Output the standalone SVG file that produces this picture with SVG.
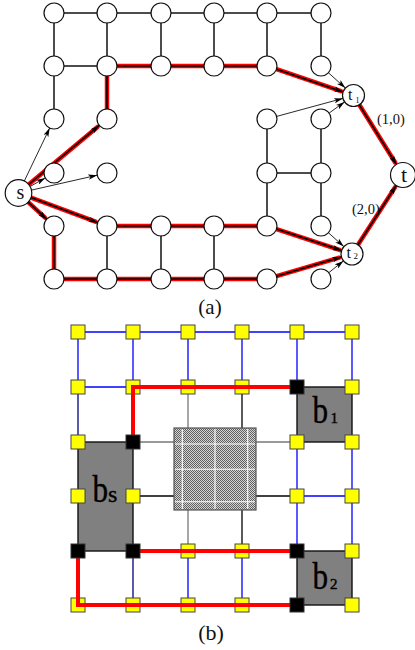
<svg xmlns="http://www.w3.org/2000/svg" width="415" height="650" viewBox="0 0 415 650">
<style>
.c{fill:#fff;stroke:#111;stroke-width:1.2}
.e{stroke:#111;stroke-width:1.5;fill:none}
.rh{stroke:#f00;stroke-width:4.5;fill:none;stroke-linecap:round}
.rc{stroke:#000;stroke-width:1.6;fill:none}
.ar{marker-end:url(#ah)}
.a{stroke:#111;stroke-width:0.9;fill:none;marker-end:url(#ah)}
.lbl{font-family:"Liberation Serif","Times New Roman",serif;fill:#111}
.bl{stroke:#00f;stroke-width:1.3}
.nv{stroke:#000080;stroke-width:1.3}
.gy{stroke:#777;stroke-width:1.3}
.bk{stroke:#000;stroke-width:1.3}
.rp{stroke:#f00;stroke-width:4;fill:none;stroke-linejoin:miter;stroke-linecap:square}
.sq{fill:#ff0;stroke:#444;stroke-width:1}
.sb{fill:#000;stroke:#333;stroke-width:1}
.box{fill:#808080;stroke:#111;stroke-width:1.4}
.wl{stroke:#fff;stroke-width:1.1}
.big{font-family:"Liberation Serif","Times New Roman",serif;fill:#000;stroke:#000;stroke-width:0.4}
</style>
<defs>
<marker id="ah" viewBox="0 0 10 6" refX="10" refY="3" markerWidth="9" markerHeight="5.4" markerUnits="userSpaceOnUse" orient="auto">
<path d="M0,0 L10,3 L0,6 L2.5,3 z" fill="#000"/>
</marker>
<pattern id="hatch" width="2" height="2" patternUnits="userSpaceOnUse">
<rect width="2" height="2" fill="#d4d4d4"/>
<rect width="1" height="1" fill="#606060"/>
<rect x="1" y="1" width="1" height="1" fill="#606060"/>
</pattern>
</defs>

<!-- ===== (a) connectors ===== -->
<g id="connectors-a">
<line class="e" x1="54" y1="13" x2="321" y2="13"/>
<line class="e" x1="54" y1="13" x2="54" y2="66"/>
<line class="e" x1="107" y1="13" x2="107" y2="66"/>
<line class="e" x1="161" y1="13" x2="161" y2="66"/>
<line class="e" x1="214" y1="13" x2="214" y2="66"/>
<line class="e" x1="267" y1="13" x2="267" y2="66"/>
<line class="e" x1="321" y1="13" x2="321" y2="66"/>
<line class="e" x1="54" y1="66" x2="107" y2="66"/>
<line class="e" x1="54" y1="66" x2="54" y2="119"/>
<line class="e" x1="267" y1="119" x2="267" y2="226"/>
<line class="e" x1="321" y1="119" x2="321" y2="226"/>
<line class="e" x1="267" y1="173" x2="321" y2="173"/>
<line class="e" x1="107" y1="226" x2="107" y2="279"/>
<line class="e" x1="161" y1="226" x2="161" y2="279"/>
<line class="e" x1="214" y1="226" x2="214" y2="279"/>
<!-- red path edges -->
<polyline class="rh" points="107,119 107,66 267,66"/>
<polyline class="rc" points="107,119 107,66 267,66"/>
<line class="rh" x1="267" y1="226" x2="107" y2="226"/>
<line class="rc" x1="267" y1="226" x2="107" y2="226"/>
<polyline class="rh" points="54,226 54,279 267,279"/>
<polyline class="rc" points="54,226 54,279 267,279"/>
<!-- red arrows -->
<line class="rh" x1="28.7" y1="184.5" x2="97.5" y2="126.9"/>
<line class="rc ar" x1="28.7" y1="184.5" x2="99.3" y2="125.4"/>
<line class="rh" x1="28.2" y1="202.1" x2="45" y2="217.6"/>
<line class="rc ar" x1="28.2" y1="202.1" x2="46.7" y2="219.2"/>
<line class="rh" x1="31" y1="197.6" x2="95.5" y2="221.7"/>
<line class="rc ar" x1="31" y1="197.6" x2="97.6" y2="222.5"/>
<line class="rh" x1="276.5" y1="69.2" x2="341" y2="91.2"/>
<line class="rc ar" x1="276.5" y1="69.2" x2="343.1" y2="91.9"/>
<line class="rh" x1="276.5" y1="229.1" x2="339.5" y2="249.9"/>
<line class="rc ar" x1="276.5" y1="229.1" x2="341.6" y2="250.6"/>
<line class="rh" x1="276.6" y1="276.2" x2="339.3" y2="257.7"/>
<line class="rc ar" x1="276.6" y1="276.2" x2="341.4" y2="257.1"/>
<line class="rh" x1="359.3" y1="104.8" x2="395.2" y2="162.5"/>
<line class="rc ar" x1="359.3" y1="104.8" x2="396.4" y2="164.4"/>
<line class="rh" x1="358" y1="244.8" x2="395" y2="187.4"/>
<line class="rc ar" x1="358" y1="244.8" x2="396.2" y2="185.5"/>
<!-- thin black arrows -->
<line class="a" x1="24.3" y1="181" x2="49.7" y2="128"/>
<line class="a" x1="30.1" y1="186.5" x2="45.3" y2="177.9"/>
<line class="a" x1="31.5" y1="190.1" x2="97.2" y2="175.2"/>
<line class="a" x1="328.4" y1="72.7" x2="345.4" y2="88.1"/>
<line class="a" x1="276.7" y1="116.4" x2="342.9" y2="98.4"/>
<line class="a" x1="329.1" y1="113.1" x2="344.6" y2="101.9"/>
<line class="a" x1="328.4" y1="232.7" x2="343.8" y2="246.6"/>
<line class="a" x1="328.8" y1="272.7" x2="343.4" y2="260.9"/>
<text class="lbl" x="377" y="124" font-size="14.5">(1,0)</text>
<text class="lbl" x="352" y="214" font-size="14.5">(2,0)</text>
</g>

<!-- ===== (a) nodes ===== -->
<g id="n-1-1"><circle class="c" cx="54" cy="13" r="10"/></g>
<g id="n-1-2"><circle class="c" cx="107" cy="13" r="10"/></g>
<g id="n-1-3"><circle class="c" cx="161" cy="13" r="10"/></g>
<g id="n-1-4"><circle class="c" cx="214" cy="13" r="10"/></g>
<g id="n-1-5"><circle class="c" cx="267" cy="13" r="10"/></g>
<g id="n-1-6"><circle class="c" cx="321" cy="13" r="10"/></g>
<g id="n-2-1"><circle class="c" cx="54" cy="66" r="10"/></g>
<g id="n-2-2"><circle class="c" cx="107" cy="66" r="10"/></g>
<g id="n-2-3"><circle class="c" cx="161" cy="66" r="10"/></g>
<g id="n-2-4"><circle class="c" cx="214" cy="66" r="10"/></g>
<g id="n-2-5"><circle class="c" cx="267" cy="66" r="10"/></g>
<g id="n-2-6"><circle class="c" cx="321" cy="66" r="10"/></g>
<g id="n-3-1"><circle class="c" cx="54" cy="119" r="10"/></g>
<g id="n-3-2"><circle class="c" cx="107" cy="119" r="10"/></g>
<g id="n-3-5"><circle class="c" cx="267" cy="119" r="10"/></g>
<g id="n-3-6"><circle class="c" cx="321" cy="119" r="10"/></g>
<g id="n-4-1"><circle class="c" cx="54" cy="173" r="10"/></g>
<g id="n-4-2"><circle class="c" cx="107" cy="173" r="10"/></g>
<g id="n-4-5"><circle class="c" cx="267" cy="173" r="10"/></g>
<g id="n-4-6"><circle class="c" cx="321" cy="173" r="10"/></g>
<g id="n-5-1"><circle class="c" cx="54" cy="226" r="10"/></g>
<g id="n-5-2"><circle class="c" cx="107" cy="226" r="10"/></g>
<g id="n-5-3"><circle class="c" cx="161" cy="226" r="10"/></g>
<g id="n-5-4"><circle class="c" cx="214" cy="226" r="10"/></g>
<g id="n-5-5"><circle class="c" cx="267" cy="226" r="10"/></g>
<g id="n-5-6"><circle class="c" cx="321" cy="226" r="10"/></g>
<g id="n-6-1"><circle class="c" cx="54" cy="279" r="10"/></g>
<g id="n-6-2"><circle class="c" cx="107" cy="279" r="10"/></g>
<g id="n-6-3"><circle class="c" cx="161" cy="279" r="10"/></g>
<g id="n-6-4"><circle class="c" cx="214" cy="279" r="10"/></g>
<g id="n-6-5"><circle class="c" cx="267" cy="279" r="10"/></g>
<g id="n-6-6"><circle class="c" cx="321" cy="279" r="10"/></g>
<g id="node-s"><circle class="c" cx="18.5" cy="193" r="13.3"/><text class="lbl" x="20.5" y="198.5" font-size="20" text-anchor="middle">s</text></g>
<g id="node-t1"><circle class="c" cx="353.5" cy="95.5" r="11"/><text class="lbl" x="348" y="100" font-size="16">t</text><text class="lbl" x="355.5" y="102.7" font-size="8">1</text></g>
<g id="node-t2"><circle class="c" cx="352" cy="254" r="11"/><text class="lbl" x="346.5" y="258.3" font-size="16">t</text><text class="lbl" x="353.5" y="258.5" font-size="9">2</text></g>
<g id="node-t"><circle class="c" cx="403" cy="175" r="12.5"/><text class="lbl" x="404" y="181.7" font-size="22" text-anchor="middle">t</text></g>
<text class="lbl" x="210" y="314" font-size="21" text-anchor="middle">(a)</text>

<!-- ===== (b) connectors ===== -->
<g id="connectors-b">
<line class="bl" x1="78" y1="332" x2="352" y2="332"/>
<line class="bl" x1="78" y1="332" x2="78" y2="387"/>
<line class="bl" x1="133" y1="332" x2="133" y2="387"/>
<line class="bl" x1="188" y1="332" x2="188" y2="387"/>
<line class="bl" x1="242" y1="332" x2="242" y2="387"/>
<line class="bl" x1="297" y1="332" x2="297" y2="387"/>
<line class="bl" x1="352" y1="332" x2="352" y2="387"/>
<line class="bl" x1="78" y1="387" x2="133" y2="387"/>
<line class="nv" x1="78" y1="387" x2="78" y2="442"/>
<line class="gy" x1="188" y1="387" x2="188" y2="428"/>
<line class="bk" x1="242" y1="387" x2="242" y2="428"/>
<line class="gy" x1="133" y1="442" x2="174" y2="442"/>
<line class="gy" x1="256" y1="442" x2="297" y2="442"/>
<line class="bk" x1="133" y1="496" x2="174" y2="496"/>
<line class="bk" x1="256" y1="496" x2="297" y2="496"/>
<line class="bl" x1="297" y1="442" x2="297" y2="551"/>
<line class="bl" x1="352" y1="442" x2="352" y2="551"/>
<line class="bl" x1="297" y1="496" x2="352" y2="496"/>
<line class="gy" x1="188" y1="510" x2="188" y2="551"/>
<line class="bk" x1="242" y1="510" x2="242" y2="551"/>
<line class="nv" x1="133" y1="551" x2="133" y2="605"/>
<line class="bl" x1="188" y1="551" x2="188" y2="605"/>
<line class="bl" x1="242" y1="551" x2="242" y2="605"/>
</g>

<!-- ===== (b) blocks ===== -->
<g id="block-obstacle">
<rect x="174" y="428" width="82" height="82" fill="url(#hatch)" stroke="#555" stroke-width="1.2"/>
<line class="wl" x1="182.3" y1="429" x2="182.3" y2="509"/>
<line class="wl" x1="215" y1="429" x2="215" y2="509"/>
<line class="wl" x1="247.7" y1="429" x2="247.7" y2="509"/>
<line class="wl" x1="175" y1="444" x2="255" y2="444"/>
<line class="wl" x1="175" y1="469.3" x2="255" y2="469.3"/>
<line class="wl" x1="175" y1="501.7" x2="255" y2="501.7"/>
</g>
<g id="block-bs">
<rect class="box" x="78" y="442" width="55" height="109"/>
<text class="big" transform="translate(92.5,502) scale(0.82,1)" font-size="38">b</text>
<text class="big" x="108" y="502" font-size="24">s</text>
</g>
<g id="block-b1">
<rect class="box" x="297" y="387" width="55" height="55"/>
<text class="big" transform="translate(312.5,423.3) scale(0.82,1)" font-size="38">b</text>
<text class="big" x="330.5" y="423.3" font-size="15">1</text>
</g>
<g id="block-b2">
<rect class="box" x="297" y="551" width="55" height="54"/>
<text class="big" transform="translate(312.5,589.3) scale(0.82,1)" font-size="38">b</text>
<text class="big" x="330" y="589.3" font-size="15">2</text>
</g>

<!-- ===== (b) yellow vertices ===== -->
<g id="v-1-1"><rect class="sq" x="71" y="325" width="14" height="14"/></g>
<g id="v-1-2"><rect class="sq" x="126" y="325" width="14" height="14"/></g>
<g id="v-1-3"><rect class="sq" x="181" y="325" width="14" height="14"/></g>
<g id="v-1-4"><rect class="sq" x="235" y="325" width="14" height="14"/></g>
<g id="v-1-5"><rect class="sq" x="290" y="325" width="14" height="14"/></g>
<g id="v-1-6"><rect class="sq" x="345" y="325" width="14" height="14"/></g>
<g id="v-2-1"><rect class="sq" x="71" y="380" width="14" height="14"/></g>
<g id="v-2-2"><rect class="sq" x="126" y="380" width="14" height="14"/></g>
<g id="v-2-3"><rect class="sq" x="181" y="380" width="14" height="14"/></g>
<g id="v-2-4"><rect class="sq" x="235" y="380" width="14" height="14"/></g>
<g id="v-2-6"><rect class="sq" x="345" y="380" width="14" height="14"/></g>
<g id="v-3-1"><rect class="sq" x="71" y="435" width="14" height="14"/></g>
<g id="v-3-5"><rect class="sq" x="290" y="435" width="14" height="14"/></g>
<g id="v-3-6"><rect class="sq" x="345" y="435" width="14" height="14"/></g>
<g id="v-4-1"><rect class="sq" x="71" y="489" width="14" height="14"/></g>
<g id="v-4-2"><rect class="sq" x="126" y="489" width="14" height="14"/></g>
<g id="v-4-5"><rect class="sq" x="290" y="489" width="14" height="14"/></g>
<g id="v-4-6"><rect class="sq" x="345" y="489" width="14" height="14"/></g>
<g id="v-5-3"><rect class="sq" x="181" y="544" width="14" height="14"/></g>
<g id="v-5-4"><rect class="sq" x="235" y="544" width="14" height="14"/></g>
<g id="v-5-6"><rect class="sq" x="345" y="544" width="14" height="14"/></g>
<g id="v-6-1"><rect class="sq" x="71" y="598" width="14" height="14"/></g>
<g id="v-6-2"><rect class="sq" x="126" y="598" width="14" height="14"/></g>
<g id="v-6-3"><rect class="sq" x="181" y="598" width="14" height="14"/></g>
<g id="v-6-4"><rect class="sq" x="235" y="598" width="14" height="14"/></g>
<g id="v-6-6"><rect class="sq" x="345" y="598" width="14" height="14"/></g>

<!-- ===== (b) red paths ===== -->
<g id="paths-b">
<polyline class="rp" points="297,387 133,387 133,442"/>
<line class="rp" x1="133" y1="551" x2="297" y2="551"/>
<polyline class="rp" points="78,551 78,605 297,605"/>
</g>

<!-- ===== (b) black terminal vertices ===== -->
<g id="v-2-5"><rect class="sb" x="290" y="380" width="14" height="14"/></g>
<g id="v-3-2"><rect class="sb" x="126" y="435" width="14" height="14"/></g>
<g id="v-5-1"><rect class="sb" x="71" y="544" width="14" height="14"/></g>
<g id="v-5-2"><rect class="sb" x="126" y="544" width="14" height="14"/></g>
<g id="v-5-5"><rect class="sb" x="290" y="544" width="14" height="14"/></g>
<g id="v-6-5"><rect class="sb" x="290" y="598" width="14" height="14"/></g>

<text class="lbl" x="211" y="640" font-size="22" text-anchor="middle">(b)</text>
</svg>
